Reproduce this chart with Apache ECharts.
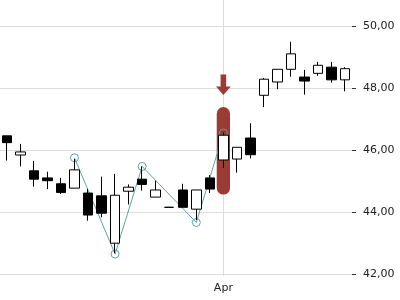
<!DOCTYPE html>
<html>
<head>
<meta charset="utf-8">
<script src="https://cdn.jsdelivr.net/npm/echarts@6/dist/echarts.min.js"></script>
<style>
html,body{margin:0;padding:0;background:#fff;}
#chart{width:400px;height:300px;}
</style>
</head>
<body>
<div id="chart"></div>
<script>
// Categories (trading days)
var dates = ['2019-03-08','2019-03-11','2019-03-12','2019-03-13','2019-03-14','2019-03-15','2019-03-18','2019-03-19','2019-03-20','2019-03-21','2019-03-22','2019-03-25','2019-03-26','2019-03-27','2019-03-28','2019-03-29','2019-04-01','2019-04-02','2019-04-03','2019-04-04','2019-04-05','2019-04-08','2019-04-09','2019-04-10','2019-04-11','2019-04-12'];
var opens  = [46.47,45.85,45.34,45.11,44.92,44.78,44.62,44.53,43.00,44.68,45.07,44.49,44.16,44.72,44.10,45.11,45.69,45.72,46.40,47.78,48.21,48.62,48.37,48.49,48.69,48.28];
var closes = [46.25,45.95,45.07,45.02,44.64,45.37,43.91,43.97,44.55,44.81,44.90,44.72,44.16,44.16,44.72,44.75,46.49,46.10,45.86,48.30,48.62,49.12,48.24,48.75,48.28,48.64];
var lows   = [45.67,45.48,44.83,44.75,44.59,44.78,43.73,43.84,42.68,44.25,44.70,44.49,44.16,44.16,43.75,44.62,45.43,45.28,45.74,47.40,47.98,48.38,47.80,48.41,48.19,47.91];
var highs  = [46.47,46.21,45.66,45.31,45.11,45.72,44.75,45.15,45.24,44.90,45.48,45.02,44.16,44.92,44.72,45.20,46.58,46.10,46.88,48.34,48.62,49.51,48.60,48.86,48.86,48.69];
// Zig-zag pivot points (index -> value)
var pivotIdx = [5, 8, 10, 14, 16];
var pivotVal = [45.76, 42.65, 45.48, 43.67, 46.56];
// Highlight band on signal candle
var signalIdx = 16;
var signalLow = 44.57;
var signalHigh = 47.40;
// Y axis ticks
var yTicks = [42, 44, 46, 48, 50];
var lastValue = 48.64;
var monthLabels = {'04': 'Apr'};

function fmt(v){ return v.toFixed(2).replace('.', ','); }

var ohlc = opens.map(function(o,i){ return [o, closes[i], lows[i], highs[i]]; });
var pivotData = dates.map(function(){ return '-'; });
pivotIdx.forEach(function(ix,k){ pivotData[ix] = pivotVal[k]; });

var chart = echarts.init(document.getElementById('chart'), null, {renderer:'canvas'});
var red = '#9a3b35';
var option = {
  animation: false,
  backgroundColor: '#fff',
  textStyle: {fontFamily: 'DejaVu Sans'},
  grid: {left: 0, right: 48, top: 0, bottom: 24, containLabel: false},
  xAxis: {
    type: 'category',
    data: dates,
    boundaryGap: true,
    axisLine: {show: false},
    axisTick: {show: false},
    splitLine: {show: false},
    axisLabel: {
      interval: 0,
      margin: 7,
      color: '#222',
      fontSize: 11,
      fontFamily: 'DejaVu Sans',
      formatter: function(v, i){
        if (v.slice(8) === '01') return monthLabels[v.slice(5,7)] || '';
        return '';
      }
    }
  },
  yAxis: {
    type: 'value',
    position: 'right',
    min: 41.94,
    max: 50.86,
    axisLine: {show: false},
    axisTick: {show: true, length: 4, lineStyle: {color: '#333'}, customValues: yTicks},
    splitLine: {show: true, lineStyle: {color: '#dddddd', width: 1}},
    axisLabel: {
      customValues: yTicks,
      margin: 11,
      color: '#222',
      fontSize: 11,
      fontFamily: 'DejaVu Sans',
      formatter: function(v){ return fmt(v); }
    }
  },
  series: [
    {
      type: 'line',
      z: 0,
      data: [],
      markLine: {
        z: 0,
        silent: true,
        symbol: 'none',
        label: {show: false},
        lineStyle: {color: '#dddddd', width: 1, type: 'solid'},
        data: [{xAxis: dates[signalIdx]}]
      }
    },
    {
      type: 'custom',
      silent: true,
      z: 1,
      data: [[signalIdx, signalLow, signalHigh]],
      renderItem: function(params, api){
        var top = api.coord([api.value(0), api.value(2)]);
        var bot = api.coord([api.value(0), api.value(1)]);
        var w = 13.3;
        var x = top[0];
        var tipY = top[1] - 12;
        return {
          type: 'group',
          children: [
            {type: 'rect', shape: {x: x - w/2, y: top[1], width: w, height: bot[1]-top[1], r: w/2}, style: {fill: red}},
            {type: 'polygon', shape: {points: [
              [x-2.8, tipY-20.5],[x+2.8, tipY-20.5],[x+2.8, tipY-8.6],[x+7.4, tipY-8.6],[x, tipY],[x-7.4, tipY-8.6],[x-2.8, tipY-8.6]
            ]}, style: {fill: red}}
          ]
        };
      }
    },
    {
      type: 'line',
      z: 2,
      data: pivotData,
      connectNulls: true,
      symbol: 'circle',
      symbolSize: 8,
      showSymbol: true,
      lineStyle: {color: '#5fa3a8', width: 1},
      itemStyle: {color: 'rgba(0,0,0,0)', borderColor: '#5fa3a8', borderWidth: 1},
      silent: true
    },
    {
      type: 'candlestick',
      z: 3,
      data: ohlc,
      barWidth: 10,
      itemStyle: {color: '#ffffff', color0: '#000000', borderColor: '#000000', borderColor0: '#000000', borderWidth: 1},
      markLine: {
        silent: true,
        symbol: 'none',
        lineStyle: {opacity: 0},
        label: {show: true, position: 'end', distance: 11, color: '#222', fontSize: 11, fontFamily: 'DejaVu Sans', padding: [5,0,0,0], formatter: fmt(lastValue)},
        data: [{yAxis: lastValue}]
      }
    }
  ]
};
chart.setOption(option);
</script>
</body>
</html>
